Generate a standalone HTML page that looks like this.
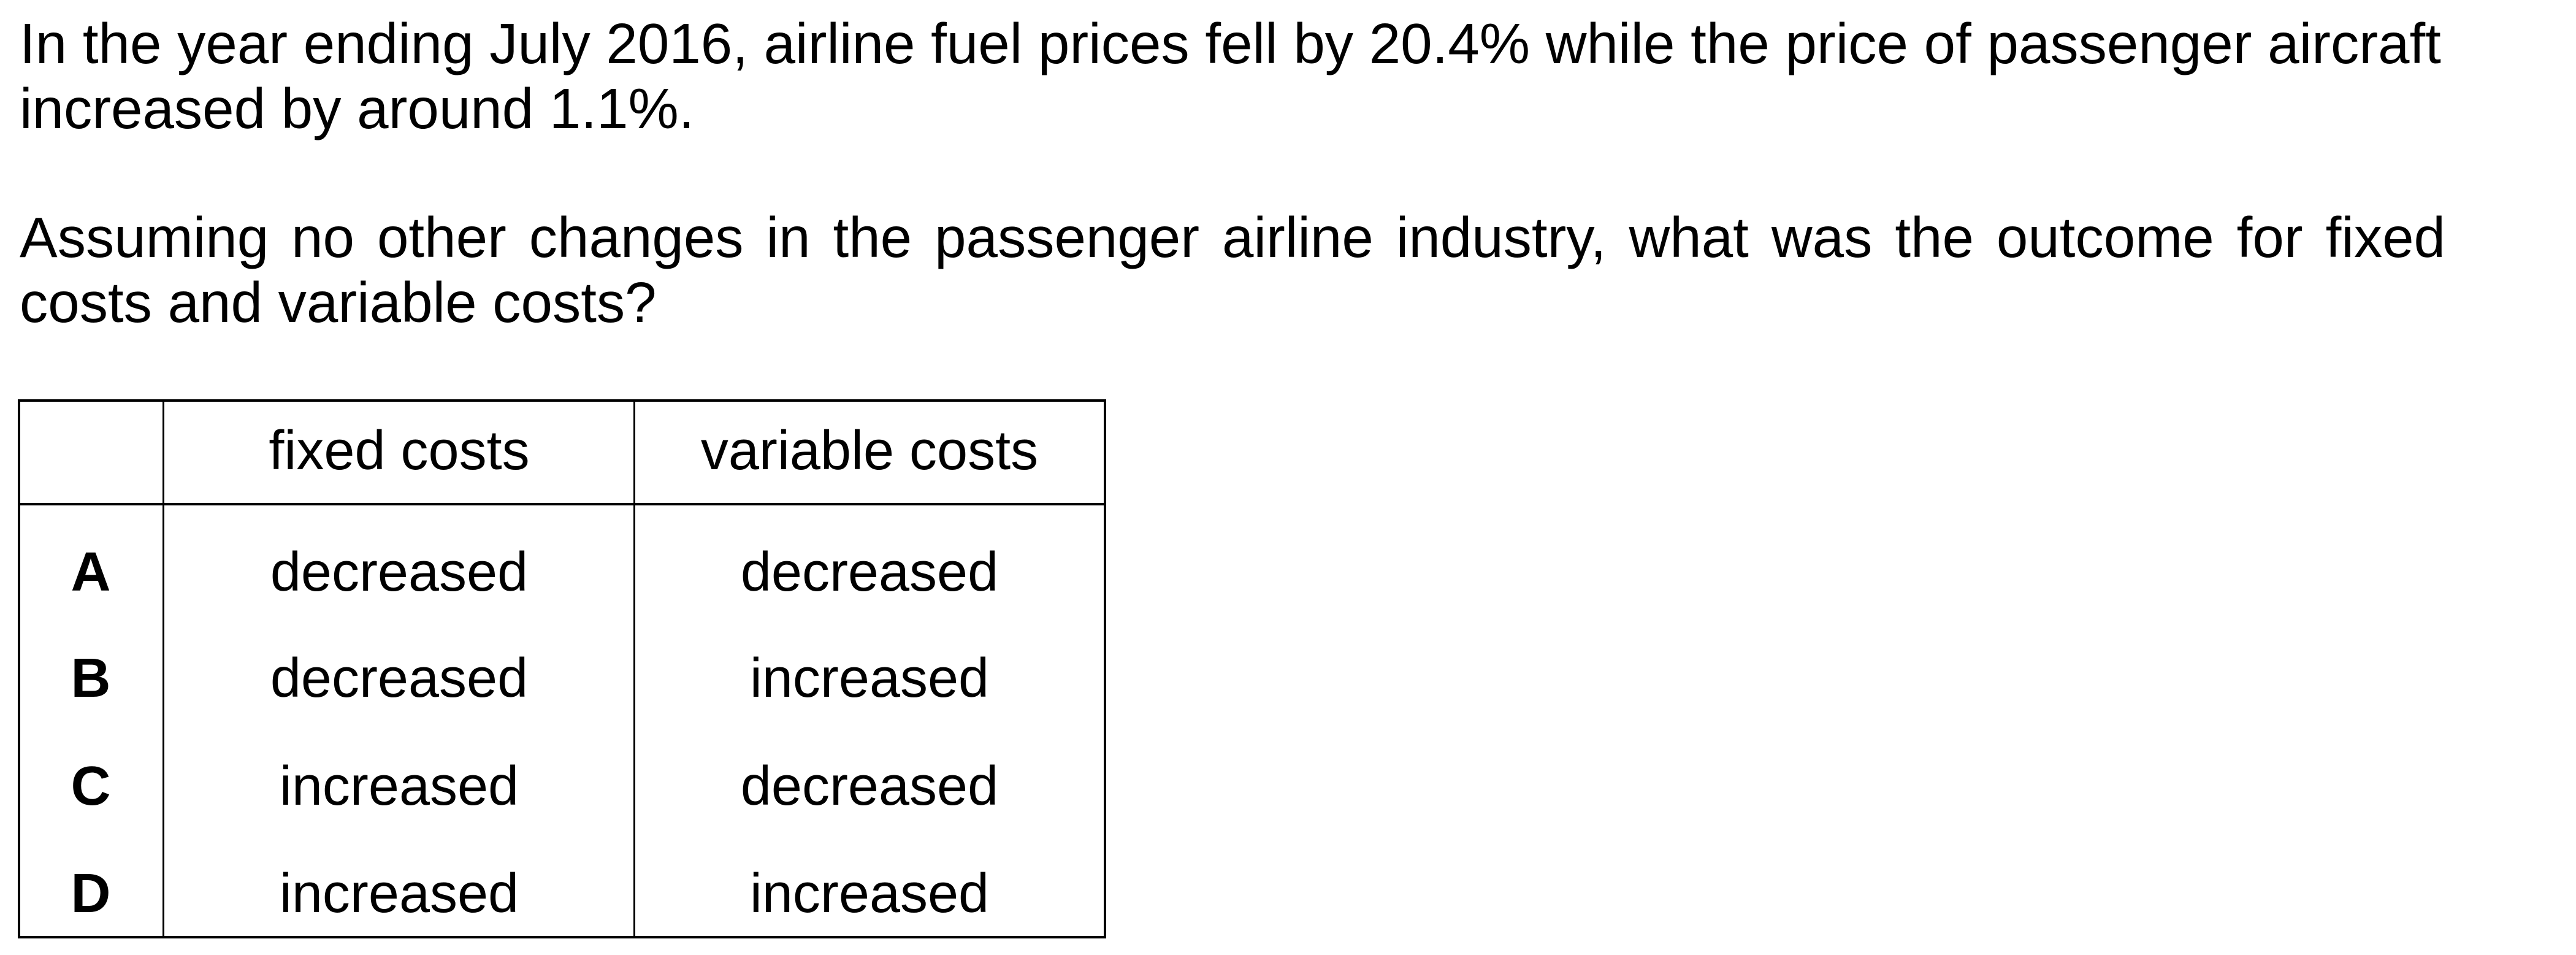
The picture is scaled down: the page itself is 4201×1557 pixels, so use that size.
<!DOCTYPE html>
<html><head><meta charset="utf-8"><style>
html,body{margin:0;padding:0;background:#fff;}
body{width:4201px;height:1557px;position:relative;overflow:hidden;font-family:"Liberation Sans",Arial,sans-serif;color:#000;}
.l{position:absolute;left:32px;width:3956px;font-size:92.5px;line-height:90px;white-space:nowrap;}
.j{text-align:justify;text-align-last:justify;}
.t{position:absolute;font-size:90px;line-height:90px;width:700px;text-align:center;white-space:nowrap;}
.b{font-weight:bold;}
.ln{position:absolute;background:#000;}
</style></head><body>
<div class="l" style="top:26px">In the year ending July 2016, airline fuel prices fell by 20.4% while the price of passenger aircraft</div>
<div class="l" style="top:132px">increased by around 1.1%.</div>
<div class="l j" style="top:342px">Assuming no other changes in the passenger airline industry, what was the outcome for fixed</div>
<div class="l" style="top:448px">costs and variable costs?</div>

<div>
<div class="ln" style="left:29px;top:651px;width:1775px;height:4px"></div>
<div class="ln" style="left:29px;top:820px;width:1775px;height:4px"></div>
<div class="ln" style="left:29px;top:1526px;width:1775px;height:4px"></div>
<div class="ln" style="left:29px;top:651px;width:4px;height:879px"></div>
<div class="ln" style="left:265px;top:651px;width:3px;height:879px"></div>
<div class="ln" style="left:1033px;top:651px;width:3px;height:879px"></div>
<div class="ln" style="left:1800px;top:651px;width:4px;height:879px"></div>

<div class="t" style="left:301px;top:690px">fixed costs</div>
<div class="t" style="left:1068px;top:690px">variable costs</div>

<div class="t b" style="left:-202px;top:888px">A</div>
<div class="t" style="left:301px;top:888px">decreased</div>
<div class="t" style="left:1068px;top:888px">decreased</div>

<div class="t b" style="left:-202px;top:1061px">B</div>
<div class="t" style="left:301px;top:1061px">decreased</div>
<div class="t" style="left:1068px;top:1061px">increased</div>

<div class="t b" style="left:-202px;top:1237px">C</div>
<div class="t" style="left:301px;top:1237px">increased</div>
<div class="t" style="left:1068px;top:1237px">decreased</div>

<div class="t b" style="left:-202px;top:1412px">D</div>
<div class="t" style="left:301px;top:1412px">increased</div>
<div class="t" style="left:1068px;top:1412px">increased</div>
</div>
</body></html>
